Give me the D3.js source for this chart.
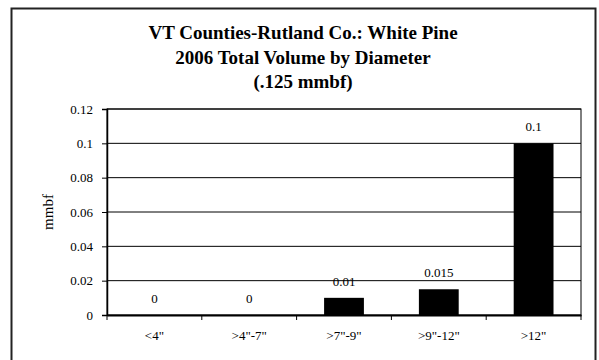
<!DOCTYPE html>
<html><head><meta charset="utf-8">
<script src="https://cdn.jsdelivr.net/npm/d3@7"></script>
<style>body{margin:0;background:#fff}svg{display:block}text{font-family:"Liberation Serif","Times New Roman",serif}</style>
</head><body>
<svg id="c" width="599" height="360"></svg>
<script>
const categories = ['<4"', '>4"-7"', '>7"-9"', '>9"-12"', '>12"'];
const values = [0, 0, 0.01, 0.015, 0.1];
const valueLabels = ["0", "0", "0.01", "0.015", "0.1"];
const yTicks = [0, 0.02, 0.04, 0.06, 0.08, 0.1, 0.12];
const yTickLabels = ["0", "0.02", "0.04", "0.06", "0.08", "0.1", "0.12"];
const titleLines = ["VT Counties-Rutland Co.: White Pine", "2006 Total Volume by Diameter", "(.125 mmbf)"];
const yTitle = "mmbf";

const svg = d3.select("#c");
svg.append("rect").attr("x", 11.5).attr("y", 8.5).attr("width", 584).attr("height", 360)
  .attr("fill", "#fff").attr("stroke", "#222").attr("stroke-width", 2);

const m = {l: 107, r: 581, t: 109, b: 315};
const x = d3.scaleBand().domain(categories).range([m.l, m.r]).paddingInner(0.58).paddingOuter(0.29);
const xb = d3.scaleBand().domain(categories).range([m.l, m.r]);
const y = d3.scaleLinear().domain([0, 0.12]).range([m.b, m.t]);

// gridlines
svg.append("g").selectAll("line").data(yTicks.slice(1)).join("line")
  .attr("x1", m.l).attr("x2", m.r).attr("y1", d => y(d)).attr("y2", d => y(d))
  .attr("stroke", "#000").attr("stroke-width", 1);

// bars
svg.append("g").selectAll("rect").data(values).join("rect")
  .attr("x", (d, i) => x(categories[i])).attr("width", x.bandwidth())
  .attr("y", d => y(d)).attr("height", d => y(0) - y(d)).attr("fill", "#000");

// plot border
svg.append("rect").attr("x", m.l).attr("y", m.t).attr("width", m.r - m.l).attr("height", m.b - m.t)
  .attr("fill", "none").attr("stroke", "#000").attr("stroke-width", 1);

// y axis
const yAxis = d3.axisLeft(y).tickValues(yTicks).tickFormat((d, i) => yTickLabels[i]).tickSize(5).tickPadding(9);
const gy = svg.append("g").attr("transform", `translate(${m.l},0)`).call(yAxis);
gy.select(".domain").attr("stroke", "#000").attr("stroke-width", 1.5);
gy.selectAll("text").attr("font-size", 13).attr("fill", "#000").attr("font-family", "Liberation Serif");

// x axis
const xAxis = d3.axisBottom(xb).tickSize(0).tickPadding(16);
const gx = svg.append("g").attr("transform", `translate(0,${m.b})`).call(xAxis);
gx.select(".domain").attr("stroke", "#000").attr("stroke-width", 2);
gx.selectAll("text").attr("font-size", 13).attr("fill", "#000").attr("font-family", "Liberation Serif");
// category boundary ticks
const bounds = categories.map(c => xb(c)).concat([m.r]);
svg.append("g").selectAll("line").data(bounds).join("line")
  .attr("x1", d => d).attr("x2", d => d).attr("y1", m.b).attr("y2", m.b + 5)
  .attr("stroke", "#000").attr("stroke-width", 1);

// value labels
svg.append("g").selectAll("text").data(values).join("text")
  .attr("x", (d, i) => x(categories[i]) + x.bandwidth() / 2)
  .attr("y", d => y(d) - 12).attr("text-anchor", "middle")
  .attr("font-size", 13).text((d, i) => valueLabels[i]);

// title
svg.append("g").selectAll("text").data(titleLines).join("text")
  .attr("x", 303).attr("y", (d, i) => 39 + i * 24.5).attr("text-anchor", "middle")
  .attr("font-size", 19).attr("font-weight", "bold").text(d => d);

// y title
svg.append("text").attr("transform", `translate(53,${(m.t + m.b) / 2}) rotate(-90)`)
  .attr("text-anchor", "middle").attr("font-size", 15).text(yTitle);
</script>
</body></html>
